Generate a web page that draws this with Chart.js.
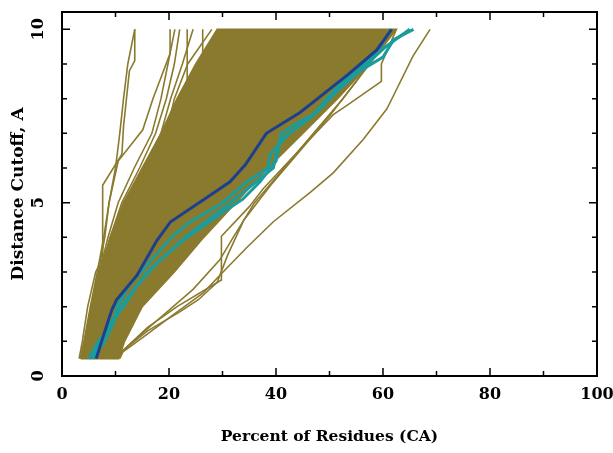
<!DOCTYPE html>
<html lang="en">
<head>
  <meta charset="UTF-8">
  <title>Distance Cutoff vs Percent of Residues</title>
  <script src="https://cdn.jsdelivr.net/npm/chart.js"></script>
  <style>
    html, body { margin: 0; padding: 0; background: #fff; }
    #wrap { width: 613px; height: 453px; }
  </style>
</head>
<body>
  <div id="wrap"><canvas id="chart" width="613" height="453"></canvas></div>

  <script>
    // each point is [cutoff (A), percent of residues]
    const blueLine = [[0.5,6.4],[1,7.4],[1.9,9.3],[2.2,10.2],[2.9,14],[3.9,17.7],[4.45,20.3],[5.1,26.6],[5.6,31.4],[6.1,34.3],[7,38.2],[7.6,44.5],[8.7,53.5],[9.4,58.8],[10,61.6]];

    const tealLine1 = [[0.5,5.3],[1,7.3],[1.5,8.8],[2,11.5],[2.6,14],[3.3,18],[3.9,22.5],[4.6,28.9],[5.1,33.8],[5.6,37],[6.2,40],[7,41],[7.3,44],[7.6,47.6],[8.2,51.3],[8.8,55.7],[9.2,60],[9.7,62],[10,65.7]];
    const tealLine2 = [[0.5,5],[1,6.8],[1.5,9.5],[2,10.3],[2.6,12.5],[3.4,17],[4,20.5],[4.4,23.5],[5,30],[5.6,34.5],[6,38.5],[6.4,38.9],[7,42.5],[7.5,46.8],[8,49.5],[8.5,52.5],[9,57],[9.5,60.5],[10,65]];
    const tealLine3 = [[0.5,5.8],[1,8],[2,11],[3,16],[4,23],[5,31.5],[6,39.5],[6.8,40.7],[7.4,46],[8.1,50.5],[9,56.5],[9.5,59.5],[10,61.5]];

    // envelope of the dense bundle of runs
    const bandLeft = [[0.5,3.5],[1,4.2],[2,5.5],[3,7],[4,9],[5,11.5],[6,15],[7,18.5],[8,21.5],[9,25],[10,29]];
    const bandRight = [[0.5,10.6],[1,11.7],[2,15],[3,21],[4,26.5],[5,32.5],[6,38.5],[7,45],[8,51.5],[9,57.5],[10,62.5]];

    // separate runs on the left fringe
    const fringeLines = [
      [[0.5,3.2],[1,3.8],[2,4.8],[3,6.3],[3.4,7.6],[5.5,7.6],[6.4,11.2],[7.2,11.5],[8.8,12.6],[9.1,13.6],[10,13.6]],
      [[0.5,3.6],[1,4.3],[2,5.5],[3,6.8],[4,8],[5,8.8],[6,10],[7,10.8],[8,11.5],[9,12.3],[10,13.6]],
      [[0.5,3.4],[1,4.1],[2,5.3],[3,6.6],[4,7.8],[5,8.8],[6.2,10.5],[7.1,15.1],[8,17],[9.3,20.2],[10,20.2]],
      [[0.5,3.6],[1,4.4],[2,5.6],[3,7],[4,8.6],[5,10.5],[6,13.5],[7,16.8],[8,18.5],[9,19.8],[10,21.1]],
      [[0.5,3.8],[1,4.5],[2,5.9],[3,7.4],[4,9],[5,11.2],[6,14.5],[7,17.5],[8,19.5],[9,21],[10,22]],
      [[0.5,4],[1,4.8],[2,6.2],[3,7.6],[4,9.5],[5,12],[6,16],[7,20],[7.5,23.4],[10,23.4]],
      [[0.5,4.2],[1,5],[2,6.4],[3,8],[4,10],[5,12.5],[6,15.5],[7,18.5],[8,20.3],[9,22.5],[10,24.5]],
      [[0.5,4.2],[1,5],[2,6.5],[3,8.2],[4,10.2],[5,12.8],[6,16],[7,19],[8,22],[9.2,26.3],[10,26.3]],
      [[0.5,4.4],[1,5.2],[2,6.8],[3,8.5],[4,10.5],[5,13.2],[6,16.5],[7,19.5],[8,21],[9,23.5],[10,28]]
    ];

    // separate runs on the right
    const rightLines = [
      [[0.5,10.8],[0.7,11.4],[1.1,15],[1.7,20.2],[2.4,26.4],[3,30.1],[3.7,34.5],[4.45,39.5],[5.3,46.4],[5.86,50.7],[6.82,56.3],[7.7,60.7],[8.07,61.9],[9.23,65.6],[10,68.8]],
      [[0.5,10.5],[0.75,11.5],[1.4,16],[2,21.5],[2.77,29.8],[4.03,29.8],[4.9,35.1],[5.4,37.6],[6.44,43.9],[7.54,50.7],[7.8,53.2],[8.5,59.7],[9,59.7],[10,62.5]],
      [[0.5,10.2],[0.75,11.5],[1.5,17],[2.5,24.5],[3.35,29.5],[4,32],[5,36],[6,41.5],[7,47],[8,52.5],[9,57.5],[10,62]],
      [[0.5,9.8],[0.75,11.5],[1.3,16],[1.85,22],[2.2,25.5],[2.7,29],[3.5,31],[4.5,34],[5.5,39],[6.5,44.5],[7.5,50],[8.5,55],[10,62]]
    ];

    const xTicks = [0, 20, 40, 60, 80, 100];
    const yTicks = [0, 5, 10];

    const OLIVE = '#8a7a2e';
    const BLUE = '#1c3f8e';
    const TEAL = '#1b9c9c';

    const toXY = pts => pts.map(p => ({ x: p[1], y: p[0] }));

    function lineSet(pts, color, width) {
      return {
        data: toXY(pts),
        borderColor: color,
        borderWidth: width,
        pointRadius: 0,
        fill: false,
        tension: 0
      };
    }

    const datasets = [];
    datasets.push(lineSet(blueLine, BLUE, 3));
    datasets.push(lineSet(tealLine1, TEAL, 3));
    datasets.push(lineSet(tealLine2, TEAL, 3));
    datasets.push(lineSet(tealLine3, TEAL, 3));
    rightLines.forEach(l => datasets.push(lineSet(l, OLIVE, 1.6)));
    fringeLines.forEach(l => datasets.push(lineSet(l, OLIVE, 1.6)));
    // closed outline of the bundle, filled
    const band = lineSet(bandLeft.concat(bandRight.slice().reverse(), [bandLeft[0]]), OLIVE, 1.6);
    band.fill = 'shape';
    band.backgroundColor = OLIVE;
    datasets.push(band);

    // inward tick marks on all four sides plus the frame
    const framePlugin = {
      id: 'frame',
      afterDraw(chart) {
        const ctx = chart.ctx;
        const a = chart.chartArea;
        const xs = chart.scales.x, ys = chart.scales.y;
        ctx.save();
        ctx.strokeStyle = '#000';
        ctx.lineWidth = 1.5;
        ctx.beginPath();
        for (let v = xs.min; v <= xs.max; v += 10) {
          const px = xs.getPixelForValue(v);
          const len = xTicks.includes(v) ? 8 : 5;
          ctx.moveTo(px, a.bottom); ctx.lineTo(px, a.bottom - len);
          ctx.moveTo(px, a.top); ctx.lineTo(px, a.top + len);
        }
        for (let v = 0; v <= 10; v += 1) {
          const py = ys.getPixelForValue(v);
          const len = yTicks.includes(v) ? 8 : 5;
          ctx.moveTo(a.left, py); ctx.lineTo(a.left + len, py);
          ctx.moveTo(a.right, py); ctx.lineTo(a.right - len, py);
        }
        ctx.stroke();
        ctx.lineWidth = 2;
        ctx.strokeRect(a.left, a.top, a.right - a.left, a.bottom - a.top);
        ctx.restore();
      }
    };

    const tickFont = { family: 'DejaVu Serif', size: 16, weight: 'bold' };

    new Chart(document.getElementById('chart').getContext('2d'), {
      type: 'line',
      data: { datasets: datasets },
      options: {
        responsive: false,
        animation: false,
        layout: { padding: { top: 12, right: 16, left: 0, bottom: 0 } },
        plugins: { legend: { display: false }, tooltip: { enabled: false } },
        scales: {
          x: {
            type: 'linear',
            min: 0, max: 100,
            grid: { display: false, drawTicks: false },
            border: { display: false },
            ticks: { stepSize: 20, color: '#000', font: tickFont, padding: 9, maxRotation: 0 },
            title: { display: true, text: 'Percent of Residues (CA)', color: '#000', font: { family: 'DejaVu Serif', size: 15.5, weight: 'bold' }, padding: { top: 7, bottom: 7 } },
            afterFit(scale) { scale.height = 77; scale.paddingLeft = 0; scale.paddingRight = 0; }
          },
          y: {
            type: 'linear',
            min: 0, max: 10.5,
            grid: { display: false, drawTicks: false },
            border: { display: false },
            ticks: { stepSize: 5, includeBounds: false, color: '#000', font: tickFont, padding: 12, minRotation: 90, maxRotation: 90, crossAlign: 'center' },
            title: { display: true, text: 'Distance Cutoff, A', color: '#000', font: { family: 'DejaVu Serif', size: 17, weight: 'bold' }, padding: { top: 8, bottom: 8 } },
            afterFit(scale) { scale.width = 62; scale.paddingTop = 0; scale.paddingBottom = 0; }
          }
        }
      },
      plugins: [framePlugin]
    });
  </script>
</body>
</html>
